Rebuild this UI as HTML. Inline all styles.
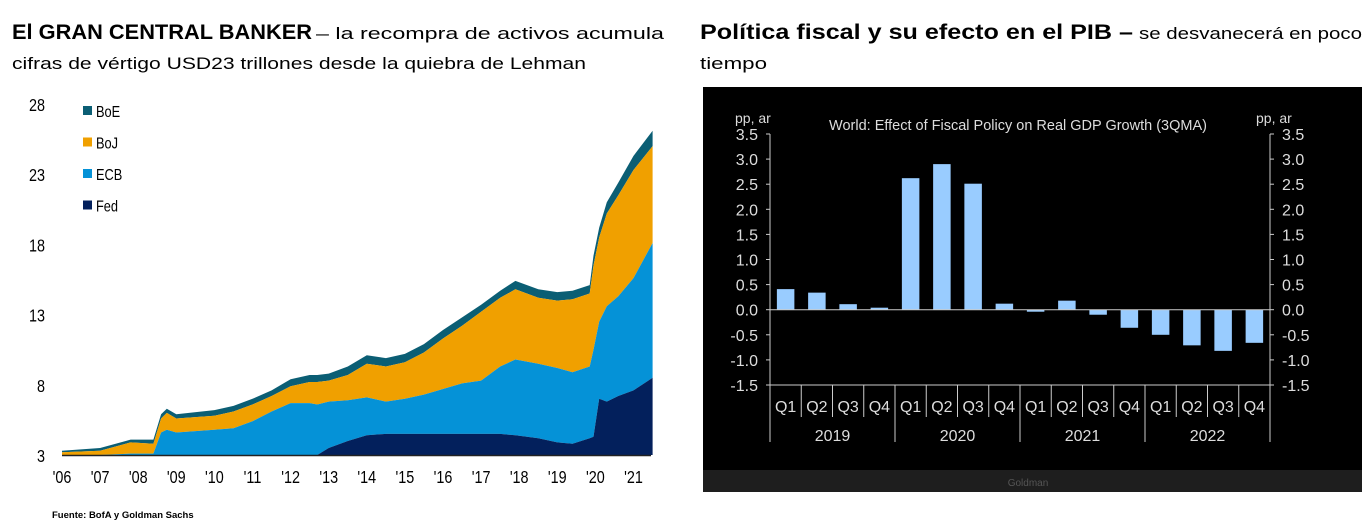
<!DOCTYPE html>
<html><head><meta charset="utf-8"><style>
html,body{margin:0;padding:0;background:#fff;width:1372px;height:524px;overflow:hidden}
svg{display:block;font-family:"Liberation Sans",sans-serif}
</style></head><body>
<svg id="s" width="1372" height="524" xmlns="http://www.w3.org/2000/svg">
<g>
<text x="12" y="39" font-size="21" font-weight="bold" textLength="300" lengthAdjust="spacingAndGlyphs">El GRAN CENTRAL BANKER</text>
<text x="316" y="39" font-size="17" textLength="348" lengthAdjust="spacingAndGlyphs">– la recompra de activos acumula</text>
<text x="12" y="69" font-size="17" textLength="574" lengthAdjust="spacingAndGlyphs">cifras de vértigo  USD23 trillones desde la quiebra de Lehman</text>
</g>
<g>
<text x="700" y="39" font-size="21" font-weight="bold" textLength="433" lengthAdjust="spacingAndGlyphs">Política fiscal y su efecto en el PIB –</text>
<text x="1139" y="39" font-size="17" textLength="223" lengthAdjust="spacingAndGlyphs">se desvanecerá en poco</text>
<text x="700" y="69" font-size="17" textLength="67" lengthAdjust="spacingAndGlyphs">tiempo</text>
</g>
<g id="left"></g>
<text x="52" y="518" font-size="9.5" font-weight="bold">Fuente: BofA y Goldman Sachs</text>
<rect x="703" y="87" width="659" height="405" fill="#000"/>
<rect x="703" y="470" width="659" height="22" fill="#1e1e1e"/>
<text x="1028" y="486" font-size="10" fill="#555" text-anchor="middle">Goldman</text>
<g id="right"></g>
</svg>
<script>
// Left chart data
const years = [2006,2007,2007.8,2008.4,2008.6,2008.75,2009,2010,2010.5,2011,2011.5,2012,2012.5,2012.7,2013,2013.5,2014,2014.5,2015,2015.5,2016,2016.5,2017,2017.5,2017.9,2018.5,2019,2019.4,2019.85,2019.95,2020.1,2020.3,2020.6,2021,2021.5];
const fedTop = [3,3,3,3,3,3,3,3,3,3,3,3,3,3,3.5,4.0,4.4,4.5,4.5,4.5,4.5,4.5,4.5,4.5,4.4,4.2,3.9,3.8,4.2,4.3,7.0,6.8,7.2,7.6,8.5];
const ecbTop = [3,3,3.1,3.1,4.6,4.8,4.6,4.8,4.9,5.4,6.1,6.7,6.7,6.6,6.8,6.9,7.1,6.8,7.0,7.3,7.7,8.1,8.3,9.3,9.8,9.5,9.2,8.9,9.3,10.5,12.5,13.6,14.3,15.6,18.1];
const bojTop = [3.2,3.3,3.9,3.8,5.6,6.0,5.6,5.8,6.1,6.6,7.2,7.9,8.2,8.2,8.3,8.7,9.5,9.3,9.6,10.3,11.3,12.2,13.2,14.2,14.8,14.2,14.0,14.1,14.5,16.5,18.5,20.2,21.5,23.3,25.0];
const boeTop = [3.3,3.5,4.1,4.1,5.9,6.3,5.9,6.2,6.5,7.0,7.6,8.4,8.7,8.7,8.8,9.3,10.1,9.9,10.2,10.9,11.9,12.8,13.7,14.7,15.4,14.8,14.6,14.7,15.1,17.2,19.2,21.0,22.4,24.3,26.1];
const leftTicks = [3,8,13,18,23,28];
const yearLabels = ["'06","'07","'08","'09","'10","'11","'12","'13","'14","'15","'16","'17","'18","'19","'20","'21"];
const seriesNames = ["BoE","BoJ","ECB","Fed"];
// Right chart data
const quarters = ["Q1","Q2","Q3","Q4","Q1","Q2","Q3","Q4","Q1","Q2","Q3","Q4","Q1","Q2","Q3","Q4"];
const fiscalValues = [0.41,0.34,0.11,0.04,2.62,2.90,2.51,0.12,-0.04,0.18,-0.10,-0.36,-0.50,-0.71,-0.82,-0.66];
const yearGroups = ["2019","2020","2021","2022"];
const rightTicks = [3.5,3.0,2.5,2.0,1.5,1.0,0.5,0.0,-0.5,-1.0,-1.5];

const NS="http://www.w3.org/2000/svg";
function mk(tag,attrs,parent,txt){const e=document.createElementNS(NS,tag);for(const k in attrs)e.setAttribute(k,attrs[k]);if(txt!==undefined)e.textContent=txt;parent.appendChild(e);return e;}

// Left chart
const L=document.getElementById('left');
const lx=y=>62+(y-2006)*38.1;
const ly=v=>455-(v-3)*14.04;
function area(top,bot,color,name){
  let d='M'+years.map((y,i)=>lx(y).toFixed(1)+','+ly(top[i]).toFixed(1)).join('L');
  for(let i=years.length-1;i>=0;i--)d+='L'+lx(years[i]).toFixed(1)+','+ly(bot?bot[i]:3).toFixed(1);
  const p=mk('path',{d:d+'Z',fill:color},L);
  
  
}
area(boeTop,bojTop,'#0b5e74','area-boe');
area(bojTop,ecbTop,'#f0a000','area-boj');
area(ecbTop,fedTop,'#0592d7','area-ecb');
area(fedTop,null,'#03205c','area-fed');
const base=mk('line',{x1:62,x2:651,y1:455.5,y2:455.5,stroke:'#222','stroke-width':1.5},L);


leftTicks.forEach(t=>{
  const e=mk('text',{x:45,y:ly(t)+7,'font-size':18,'text-anchor':'end',transform:`translate(45,0) scale(0.8,1) translate(-45,0)`},L,String(t));
  
  
});
yearLabels.forEach((lab,i)=>{
  const x=lx(2006+i);
  const e=mk('text',{x:x,y:483,'font-size':18,'text-anchor':'middle',transform:`translate(${x},0) scale(0.8,1) translate(${-x},0)`},L,lab);
  
  
});
const legColors=['#0b5e74','#f0a000','#0592d7','#03205c'];
seriesNames.forEach((n,i)=>{
  const y=112+i*31.5;
  const g=mk('g',{},L);
  
  
  mk('rect',{x:83,y:y-6,width:9,height:9,fill:legColors[i]},g);
  mk('text',{x:96,y:y+5,'font-size':16,transform:`translate(96,0) scale(0.8,1) translate(-96,0)`},g,n);
});

// Right chart
const R=document.getElementById('right');
const rx0=770,rx1=1270,bw=(rx1-rx0)/16;
const ry=v=>309.7-v*50.2;
mk('text',{x:1018,y:130,'font-size':14.5,fill:'#ddd','text-anchor':'middle'},R,'World: Effect of Fiscal Policy on Real GDP Growth (3QMA)');
mk('text',{x:735,y:123,'font-size':14,fill:'#ddd'},R,'pp, ar');
mk('text',{x:1256,y:123,'font-size':14,fill:'#ddd'},R,'pp, ar');
rightTicks.forEach(t=>{
  const lab=(t<0?'-':'')+Math.abs(t).toFixed(1);
  const a=mk('text',{x:758,y:ry(t)+6,'font-size':16,fill:'#ddd','text-anchor':'end'},R,lab);
  
  
  const b=mk('text',{x:1282,y:ry(t)+6,'font-size':16,fill:'#ddd'},R,lab);
  
  
  mk('line',{x1:rx0-4,x2:rx0,y1:ry(t),y2:ry(t),stroke:'#ccc'},R);
  mk('line',{x1:rx1,x2:rx1+4,y1:ry(t),y2:ry(t),stroke:'#ccc'},R);
});
mk('line',{x1:rx0,x2:rx0,y1:ry(3.5),y2:ry(-1.5),stroke:'#ccc'},R);
mk('line',{x1:rx1,x2:rx1,y1:ry(3.5),y2:ry(-1.5),stroke:'#ccc'},R);
mk('line',{x1:rx0,x2:rx1,y1:ry(-1.5),y2:ry(-1.5),stroke:'#ccc'},R);
fiscalValues.forEach((v,i)=>{
  const x=rx0+i*bw+bw*0.22, w=bw*0.56;
  const r=mk('rect',{x:x,y:Math.min(ry(v),ry(0)),width:w,height:Math.abs(ry(v)-ry(0)),fill:'#99ccff'},R);
  
  
});
mk('line',{x1:rx0,x2:rx1,y1:ry(0),y2:ry(0),stroke:'#ccc'},R);
quarters.forEach((q,i)=>{
  const x=rx0+(i+0.5)*bw;
  const t=mk('text',{x:x,y:412,'font-size':16,fill:'#ddd','text-anchor':'middle'},R,q);
  
  
  if(i>0&&i%4!==0)mk('line',{x1:rx0+i*bw,x2:rx0+i*bw,y1:ry(-1.5),y2:417,stroke:'#ccc'},R);
});
for(let k=0;k<=4;k++){const x=rx0+k*4*bw;mk('line',{x1:x,x2:x,y1:ry(-1.5),y2:442,stroke:'#ccc'},R);}
yearGroups.forEach((y,k)=>{
  const t=mk('text',{x:rx0+(k*4+2)*bw,y:441,'font-size':16,fill:'#ddd','text-anchor':'middle'},R,y);
  
  
});
</script>
</body></html>
